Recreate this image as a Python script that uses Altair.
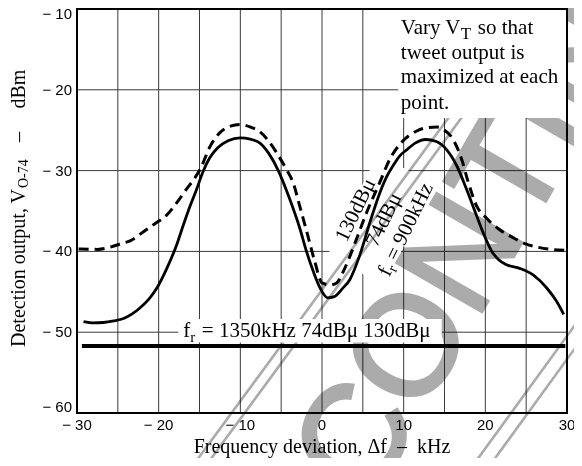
import altair as alt
import pandas as pd

# ---------------- data ----------------
solid_x = [-29.2, -28, -26.8, -25.5, -24.3, -23.2, -22.3, -21.2, -20.2, -19.0,
           -17.8, -17.0, -16.2, -15.35, -14.6, -13.8, -12.8, -11.5, -10.0, -8.8,
           -7.6, -6.5, -5.35, -4.0, -2.7, -1.9, -1.06, -0.2, 0.7, 1.5,
           2.5, 3.4, 4.65, 5.9, 7.1, 8.0, 8.7, 9.5, 10.4, 11.4,
           12.7, 14.0, 15.25, 16.5, 17.7, 18.9, 19.7, 20.8, 21.6, 22.6,
           24.2, 25.85, 27.5, 28.7, 29.6]
solid_y = [-48.7, -48.85, -48.8, -48.6, -48.3, -47.7, -47.0, -45.9, -44.5, -42.1,
           -39.2, -36.8, -34.5, -32.3, -30.2, -28.5, -27.2, -26.3, -25.95, -26.1,
           -26.6, -27.9, -30.0, -33.4, -37.2, -40.0, -42.5, -44.6, -45.75, -45.6,
           -44.6, -43.5, -40.4, -36.3, -32.7, -30.6, -29.4, -28.2, -27.4, -26.6,
           -26.15, -26.4, -27.4, -29.4, -32.3, -35.5, -37.6, -40.0, -41.0, -41.65,
           -42.1, -42.9, -44.5, -46.15, -47.8]

dash_x = [-29.8, -27.5, -26.0, -24.5, -23.5, -21.9, -20.5, -19.0, -17.8, -16.6,
          -15.7, -14.9, -13.7, -12.5, -11.2, -10.0, -8.8, -7.6, -6.5, -5.55,
          -4.5, -3.5, -2.7, -1.8, -0.9, 0.0, 1.0, 1.8, 2.6, 3.3,
          4.25, 5.5, 7.1, 8.3, 9.75, 11.6, 12.8, 14.1, 15.0, 15.9,
          17.1, 17.9, 18.9, 20.15, 21.6, 23.4, 25.0, 26.5, 28.0, 29.8]
dash_y = [-39.7, -39.75, -39.5, -39.0, -38.7, -37.6, -36.6, -35.5, -34.0, -32.3,
          -31.1, -29.8, -27.0, -25.3, -24.5, -24.3, -24.6, -25.2, -26.4, -27.8,
          -29.6, -31.6, -34.5, -37.8, -41.2, -43.9, -44.15, -43.9, -42.5, -40.9,
          -38.4, -35.1, -31.4, -28.6, -26.5, -25.1, -24.7, -24.6, -25.0, -25.9,
          -28.6, -31.4, -34.3, -35.9, -37.2, -38.3, -39.1, -39.5, -39.75, -39.85]

level_1350 = -51.7
level_x = [-29.4, 29.8]

x_ticks = [-30, -20, -10, 0, 10, 20, 30]
x_grid = [-25, -20, -15, -10, -5, 0, 5, 10, 15, 20, 25]
y_ticks = [-60, -50, -40, -30, -20, -10]
y_grid = [-50, -40, -30, -20]

note_lines = ["tweet output is", "maximized at each", "point."]
note_y = [-16.13, -19.19, -22.38]

# watermark stamp lines (data coordinates)
wm_x1 = [-20.6, -19.0, 13.73, 15.8]
wm_y1 = [-73.1, -73.1, -73.1, -73.1]
wm_x2 = [29.28, 30.87, 37.53, 39.6]
wm_y2 = [-4.49, -4.49, -40.0, -40.0]


def fmt(v):
    return ("\u2212 " + str(abs(v))) if v < 0 else str(v)


# ---------------- helpers ----------------
xs = alt.Scale(domain=[-30, 30], nice=False, zero=False)
ys = alt.Scale(domain=[-60, -10], nice=False, zero=False)
SERIF = "Liberation Serif"
SANS = "Liberation Sans"


def X(f):
    return alt.X(f, type="quantitative", scale=xs, axis=None)


def Y(f):
    return alt.Y(f, type="quantitative", scale=ys, axis=None)


def pt(x, y):
    return pd.DataFrame({"x": [x], "y": [y]})


def txt(x, y, text, size=21, align="left", baseline="alphabetic", dx=0, dy=0,
        angle=0, font=SERIF, color="black"):
    return alt.Chart(pt(x, y)).mark_text(
        text=text, font=font, fontSize=size, align=align, baseline=baseline,
        dx=dx, dy=dy, angle=angle, color=color
    ).encode(x=X("x"), y=Y("y"))


layers = []

# grid
gv = pd.DataFrame({"x": x_grid, "y0": -60, "y1": -10})
layers.append(alt.Chart(gv).mark_rule(color="#3a3a3a", strokeWidth=1).encode(
    x=X("x"), y=Y("y0"), y2="y1"))
gh = pd.DataFrame({"y": y_grid, "x0": -30, "x1": 30})
layers.append(alt.Chart(gh).mark_rule(color="#3a3a3a", strokeWidth=1).encode(
    x=X("x0"), x2="x1", y=Y("y")))

# white band behind rotated labels
band = pd.DataFrame({"x": [4.14], "y": [-42.37], "x2": [10.26], "y2": [-29.82]})
layers.append(alt.Chart(band).mark_rule(color="white", strokeWidth=64, strokeCap="butt").encode(
    x=X("x"), y=Y("y"), x2="x2", y2="y2"))

# watermark
wm = pd.DataFrame({"x": wm_x1, "y": wm_y1, "x2": wm_x2, "y2": wm_y2})
layers.append(alt.Chart(wm).mark_rule(color="#ababab", strokeWidth=2.6, blend="multiply").encode(
    x=X("x"), y=Y("y"), x2="x2", y2="y2"))
layers.append(alt.Chart(pt(19.85, -36.3)).mark_text(
    text="DISCONTINUED", font=SANS, fontSize=142, fontWeight="normal", angle=300,
    align="center", baseline="middle", color="#ababab", stroke="#ababab",
    strokeWidth=3.5, blend="multiply"
).encode(x=X("x"), y=Y("y")))

# white boxes
layers.append(alt.Chart(pd.DataFrame({"x": [9.33], "x2": [30], "y": [-10], "y2": [-23.48]}))
              .mark_rect(color="white").encode(x=X("x"), x2="x2", y=Y("y"), y2="y2"))
layers.append(alt.Chart(pd.DataFrame({"x": [-17.6], "x2": [14.66], "y": [-48.36], "y2": [-51.26]}))
              .mark_rect(color="white").encode(x=X("x"), x2="x2", y=Y("y"), y2="y2"))

# 1350 kHz flat line
lv = pd.DataFrame({"x": [level_x[0]], "x2": [level_x[1]], "y": [level_1350]})
layers.append(alt.Chart(lv).mark_rule(color="black", strokeWidth=4).encode(
    x=X("x"), x2="x2", y=Y("y")))

# curves
dfd = pd.DataFrame({"x": dash_x, "y": dash_y})
layers.append(alt.Chart(dfd).mark_line(color="black", strokeWidth=3, strokeDash=[10, 6],
                                        interpolate="monotone").encode(x=X("x"), y=Y("y")))
dfs = pd.DataFrame({"x": solid_x, "y": solid_y})
layers.append(alt.Chart(dfs).mark_line(color="black", strokeWidth=2.8,
                                        interpolate="monotone").encode(x=X("x"), y=Y("y")))

# note box text
layers.append(txt(9.65, -13.06, "Vary V"))
layers.append(txt(9.65, -13.06, "T", size=17, dx=60, dy=5))
layers.append(txt(9.65, -13.06, "so that", dx=77))
nl = pd.DataFrame({"x": 9.65, "y": note_y, "t": note_lines})
layers.append(alt.Chart(nl).mark_text(font=SERIF, fontSize=21, align="left",
                                      baseline="alphabetic", color="black").encode(
    x=X("x"), y=Y("y"), text="t:N"))

# horizontal label
layers.append(txt(-16.98, -50.55, "f"))
layers.append(txt(-16.98, -50.55, "r", size=15, dx=7, dy=5))
layers.append(txt(-16.98, -50.55, "= 1350kHz 74dB\u03bc 130dB\u03bc", dx=18.5))

# rotated labels
ang = 296
layers.append(txt(4.14, -34.9, "130dB\u03bc", align="center", baseline="middle", angle=ang))
layers.append(txt(7.6, -36.1, "74dB\u03bc", align="center", baseline="middle", angle=ang))
layers.append(txt(10.27, -37.3, "f", baseline="middle", angle=ang, dx=-50.5))
layers.append(txt(10.27, -37.3, "r", size=15, baseline="middle", angle=ang, dx=-43.5, dy=5))
layers.append(txt(10.27, -37.3, "= 900kHz", baseline="middle", angle=ang, dx=-33))

# frame
layers.append(alt.Chart(pd.DataFrame({"x": [-30], "x2": [30], "y": [-10], "y2": [-60]}))
              .mark_rect(fillOpacity=0, stroke="black", strokeWidth=2)
              .encode(x=X("x"), x2="x2", y=Y("y"), y2="y2"))

# x tick labels
xl = pd.DataFrame({"x": x_ticks, "y": -60, "t": [fmt(v) for v in x_ticks]})
layers.append(alt.Chart(xl).mark_text(
    font=SANS, fontSize=15, align="center", baseline="top", dy=5, color="black"
).encode(x=X("x"), y=Y("y"), text="t:N"))

# x axis title
layers.append(txt(0, -60, "Frequency deviation, \u0394f\u00a0\u00a0\u2013\u00a0\u00a0kHz",
                  size=20, align="center", baseline="alphabetic", dy=40))

# y tick labels
yl = pd.DataFrame({"x": -30, "y": y_ticks, "t": [fmt(v) for v in y_ticks]})
for cond, dy in [("datum.y == -10", 4.5), ("datum.y == -60", -6),
                 ("datum.y != -10 && datum.y != -60", 0)]:
    layers.append(alt.Chart(yl).transform_filter(cond).mark_text(
        font=SANS, fontSize=15, align="right", baseline="middle", dx=-5, dy=dy,
        color="black").encode(x=X("x"), y=Y("y"), text="t:N"))

# y axis title with subscript
ax, ay = -37.1, -32.28
layers.append(txt(ax, ay, "Detection output, V", size=20, align="right", baseline="middle", angle=270))
layers.append(txt(ax, ay, "O-74", size=14, align="left", baseline="middle", angle=270, dx=1, dy=5))
layers.append(txt(ax, ay, "\u2013", size=20, align="center", baseline="middle", angle=270, dx=52))
layers.append(txt(ax, ay, "dBm", size=20, align="center", baseline="middle", angle=270, dx=100))

chart = alt.layer(*layers).properties(
    width=490, height=404,
    autosize=alt.AutoSizeParams(type="none"),
    padding={"left": 69, "top": 1, "right": 7, "bottom": 45},
).configure_view(stroke=None).configure(background="white")

chart.save("out.html", embed_options={"renderer": "svg", "actions": False})
